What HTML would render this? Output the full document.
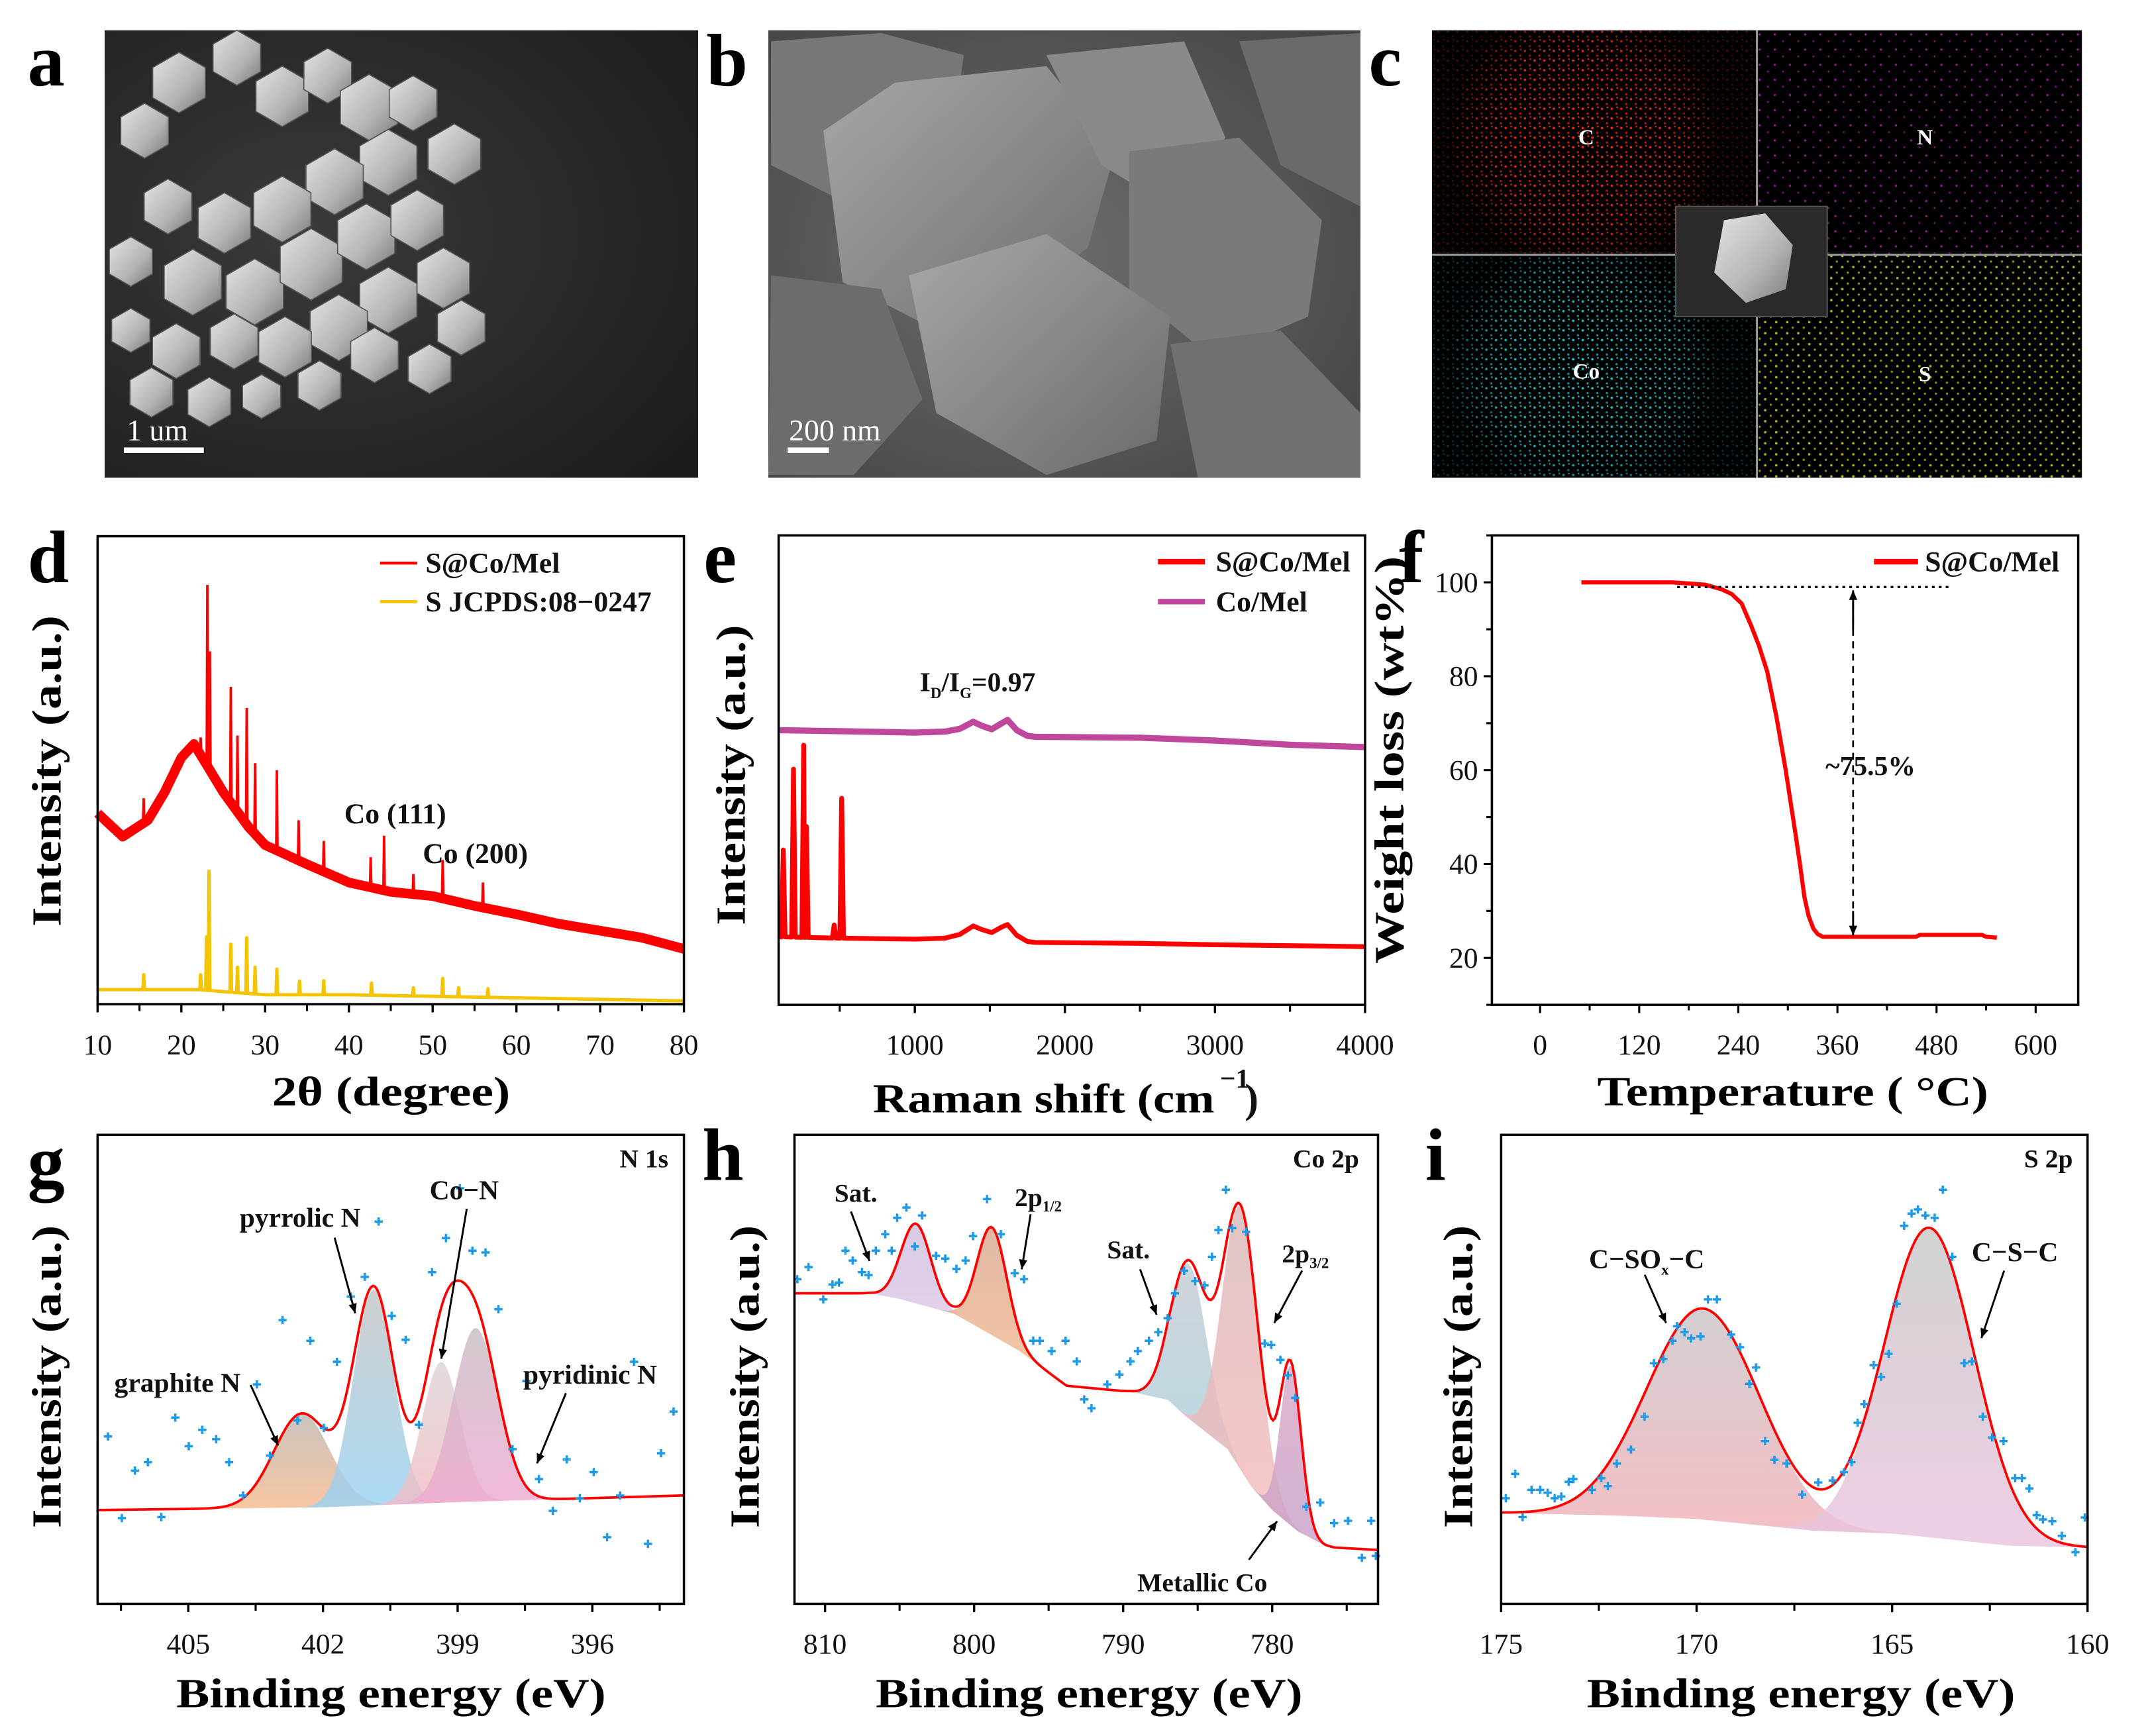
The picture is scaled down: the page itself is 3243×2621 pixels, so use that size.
<!DOCTYPE html>
<html><head><meta charset="utf-8">
<style>
html,body{margin:0;padding:0;background:#fff}
svg{display:block}
text{font-family:"Liberation Serif",serif}
</style></head>
<body>
<svg id="fig" xmlns="http://www.w3.org/2000/svg" width="3243" height="2621" viewBox="0 0 1560 1261" preserveAspectRatio="none">
<defs>
<linearGradient id="hexG" x1="0" y1="0" x2="1" y2="1"><stop offset="0" stop-color="#e4e4e4"/><stop offset="0.6" stop-color="#b4b4b4"/><stop offset="1" stop-color="#7a7a7a"/></linearGradient>
<radialGradient id="aBg" cx="0.35" cy="0.45" r="0.8"><stop offset="0" stop-color="#3a3a3a"/><stop offset="1" stop-color="#1c1c1c"/></radialGradient>
<radialGradient id="bBg" cx="0.45" cy="0.5" r="0.8"><stop offset="0" stop-color="#6e6e6e"/><stop offset="1" stop-color="#3e3e3e"/></radialGradient>
<linearGradient id="rockG" x1="0" y1="0" x2="1" y2="1"><stop offset="0" stop-color="#a8a8a8"/><stop offset="1" stop-color="#6a6a6a"/></linearGradient>
<pattern id="dotR" width="7" height="7" patternUnits="userSpaceOnUse"><circle cx="1.5" cy="2" r="0.9" fill="#ff2a1a"/><circle cx="5" cy="5.5" r="0.8" fill="#d01810"/><circle cx="5.5" cy="1" r="0.6" fill="#ff3a2a"/></pattern>
<pattern id="dotM" width="11" height="11" patternUnits="userSpaceOnUse"><circle cx="2" cy="3" r="0.8" fill="#c020c0"/><circle cx="8" cy="8" r="0.7" fill="#a010a0"/></pattern>
<pattern id="dotC" width="7" height="7" patternUnits="userSpaceOnUse"><circle cx="1.5" cy="2" r="0.9" fill="#20c8d0"/><circle cx="5" cy="5.5" r="0.8" fill="#10a0b0"/><circle cx="5.5" cy="1" r="0.6" fill="#30d8e0"/></pattern>
<pattern id="dotY" width="8" height="8" patternUnits="userSpaceOnUse"><circle cx="2" cy="2" r="0.9" fill="#d8d010"/><circle cx="6" cy="6" r="0.8" fill="#b0a800"/></pattern>
<radialGradient id="cloud"><stop offset="0" stop-color="#fff" stop-opacity="1"/><stop offset="0.7" stop-color="#fff" stop-opacity="0.8"/><stop offset="1" stop-color="#fff" stop-opacity="0.15"/></radialGradient>
<mask id="mC"><rect x="1040" y="22" width="236" height="163" fill="#fff" opacity="0.25"/><circle cx="1150" cy="100" r="95" fill="url(#cloud)"/></mask>
<mask id="mCo"><rect x="1040" y="185" width="236" height="162" fill="#fff" opacity="0.25"/><circle cx="1150" cy="268" r="95" fill="url(#cloud)"/></mask>
<linearGradient id="gOr" x1="0" y1="0" x2="0" y2="1"><stop offset="0" stop-color="#bdb7b2"/><stop offset="1" stop-color="#f6b98c"/></linearGradient>
<linearGradient id="gBl" x1="0" y1="0" x2="0" y2="1"><stop offset="0" stop-color="#c4c4c4"/><stop offset="1" stop-color="#98d2f2"/></linearGradient>
<linearGradient id="gGr" x1="0" y1="0" x2="0" y2="1"><stop offset="0" stop-color="#dcd4d4"/><stop offset="1" stop-color="#f2bcc4"/></linearGradient>
<linearGradient id="gPk" x1="0" y1="0" x2="0" y2="1"><stop offset="0" stop-color="#c8bcc4"/><stop offset="1" stop-color="#eeaad0"/></linearGradient>
<linearGradient id="gLv" x1="0" y1="0" x2="0" y2="1"><stop offset="0" stop-color="#cfc0dc"/><stop offset="1" stop-color="#dcc8e8"/></linearGradient>
<linearGradient id="gOr2" x1="0" y1="0" x2="0" y2="1"><stop offset="0" stop-color="#d8a890"/><stop offset="1" stop-color="#f4b890"/></linearGradient>
<linearGradient id="gBg" x1="0" y1="0" x2="0" y2="1"><stop offset="0" stop-color="#c4ccd0"/><stop offset="1" stop-color="#a8d0e0"/></linearGradient>
<linearGradient id="gRs" x1="0" y1="0" x2="0" y2="1"><stop offset="0" stop-color="#d8b8b8"/><stop offset="1" stop-color="#f8bcbc"/></linearGradient>
<linearGradient id="gMt" x1="0" y1="0" x2="0" y2="1"><stop offset="0" stop-color="#d8a8c8"/><stop offset="1" stop-color="#c8a0c8"/></linearGradient>
<linearGradient id="gS1" x1="0" y1="0" x2="0" y2="1"><stop offset="0" stop-color="#c8c4c6"/><stop offset="1" stop-color="#f2b0b8"/></linearGradient>
<linearGradient id="gS2" x1="0" y1="0" x2="0" y2="1"><stop offset="0" stop-color="#c8c8c8"/><stop offset="1" stop-color="#eac4de"/></linearGradient>
</defs>

<g id="semA">
<rect x="76" y="22" width="431" height="325" fill="url(#aBg)"/>
</g>
<g id="semB">
<rect x="558" y="22" width="430" height="325" fill="url(#bBg)"/>
<polygon points="560,30 640,24 700,40 690,110 620,150 560,120" fill="#777"/>
<polygon points="598,95 650,60 760,48 810,110 790,180 700,250 612,205" fill="url(#rockG)"/>
<polygon points="760,40 860,30 890,100 850,150 800,120" fill="#8a8a8a"/>
<polygon points="820,110 900,100 960,160 950,230 880,260 820,210" fill="#7a7a7a"/>
<polygon points="660,200 760,170 850,230 840,320 760,345 680,300" fill="url(#rockG)"/>
<polygon points="560,200 640,210 670,290 620,345 558,345" fill="#6c6c6c"/>
<polygon points="850,250 930,240 988,300 988,347 870,347" fill="#707070"/>
<polygon points="900,30 988,24 988,150 930,120" fill="#6a6a6a"/>
</g>
<g id="edsC">
<rect x="1040" y="22" width="472" height="325" fill="#000"/>
<rect x="1040" y="22" width="236" height="163" fill="url(#dotR)" mask="url(#mC)"/>
<rect x="1276" y="22" width="236" height="163" fill="url(#dotM)" opacity="0.8"/>
<rect x="1040" y="185" width="236" height="162" fill="url(#dotC)" mask="url(#mCo)"/>
<rect x="1276" y="185" width="236" height="162" fill="url(#dotY)" opacity="0.85"/>
<line x1="1276" y1="22" x2="1276" y2="347" stroke="#999" stroke-width="1.5"/>
<line x1="1040" y1="185" x2="1512" y2="185" stroke="#999" stroke-width="1.5"/>
<rect x="1217" y="150" width="110" height="80" fill="#2a2a2a" stroke="#555" stroke-width="1"/>
<polygon points="1252,160 1282,155 1302,178 1297,210 1268,220 1245,198" fill="url(#hexG)"/>
<text x="1152" y="105" font-size="16" font-weight="bold" fill="#fff" text-anchor="middle">C</text>
<text x="1398" y="105" font-size="16" font-weight="bold" fill="#fff" text-anchor="middle">N</text>
<text x="1152" y="275" font-size="16" font-weight="bold" fill="#fff" text-anchor="middle">Co</text>
<text x="1398" y="277" font-size="16" font-weight="bold" fill="#fff" text-anchor="middle">S</text>
</g>
</svg>
<script>
// ---------------- DATA ----------------
const xrdBgX=[10,13,16,18,20,21.5,23,25,28,30,35,40,45,50,55,60,65,70,75,80];
const xrdBgY=[40.8,35.8,39.3,45.3,52.7,55.6,51.2,45.3,37.9,34,29.9,26,24,23.1,21,19.2,17.2,15.7,14.2,11.8];
const xrdPeakX=[15.5,22.3,23.1,23.4,25.9,26.7,27.8,28.8,31.4,34,37,42.6,44.2,47.7,51.2,56];
const xrdPeakY=[44,57,89.6,75.4,67.8,57.4,63.3,51.5,50,39.3,34.9,31.4,36,27.8,30.8,26];
const refBgX=[10,22,30,40,80];
const refBgY=[3.1,3.1,2,2,0.7];
const refPeakX=[15.5,22.3,23.0,23.3,25.9,26.7,27.8,28.8,31.4,34.1,37,42.7,47.7,51.2,53.1,56.6];
const refPeakY=[6.3,6.3,14.4,28.4,12.8,7.9,14.2,7.9,7.5,4.9,5,4.5,3.5,5.5,3.5,3.3];
const xrdTicks=[10,20,30,40,50,60,70,80];
const ramanX=[93,500,1000,1200,1300,1389,1450,1513,1580,1618,1680,1750,1800,2500,3000,3500,4000];
const ramanCoMel=[58.5,58.3,58,58.2,58.8,60.3,59.4,58.7,60,60.7,58.5,57.3,57.1,56.9,56.3,55.4,54.9];
const ramanSCo=[14.5,14.2,14,14.2,15,16.8,16,15.4,16.6,17.1,14.8,13.5,13.3,13.1,12.8,12.6,12.4];
const ramanPeakX=[124,192,260,278,463,513];
const ramanPeakY=[33,50.2,55.3,38,17,44];
const ramanTicks=[1000,2000,3000,4000];
const tgaT=[50,160,200,220,232,244,255,265,275,286,297,309,315,320,325,331,336,342,455,460,535,540,553];
const tgaW=[100,100,99.5,98.5,97.5,95.5,91,86.5,81,71.5,60.4,46.7,39.5,33,29,26.2,25.1,24.5,24.5,24.9,24.9,24.5,24.3];
const tgaXTicks=[0,120,240,360,480,600];
const tgaYTicks=[20,40,60,80,100];
const gBgX=[407,402,399,394];
const gBgY=[20,20.6,21.7,23.1];
const gNames=['graphite-n','pyrrolic-n','co-n','pyridinic-n'];
const gCenters=[402.47,400.87,399.37,398.6];
const gAmps=[20,46,30,37];
const gSig=[0.62,0.45,0.42,0.5];
const gPtsX=[406.79,406.48,406.19,405.90,405.60,405.29,404.99,404.69,404.38,404.09,403.78,403.47,403.18,402.90,402.57,402.28,401.98,401.69,401.38,401.07,400.76,400.47,400.16,399.86,399.57,399.26,398.95,398.67,398.38,398.09,397.78,397.47,397.19,396.88,396.57,396.28,395.97,395.67,395.38,395.07,394.76,394.47,394.19];
const gPtsY=[35.7,18.3,28.4,30.2,18.5,39.7,33.6,37.1,35.1,30.2,23.1,46.8,31.6,60.5,39.1,56.1,37.5,51.6,65.5,69.7,81.5,61.4,56.3,38.2,70.7,78.0,88.6,75.3,74.9,62.8,33.0,47.5,26.6,19.8,30.8,22.5,28.1,14.2,23.1,51.6,12.8,32.1,41.0];
const gTicks=[405,402,399,396];
const hBgX=[812,807,805,801.3,797,793.8,789.5,787,785.8,783,781.4,780,778.3,776.5,775.8,773];
const hBgY=[66.2,66.2,65,61.8,54,46.5,45.2,43.5,40,33,25,20,15.5,12.5,12,11.5];
const hNames=['sat-1','2p-half','sat-2','2p-three-half','metallic-co'];
const hCenters=[803.9,798.8,785.6,782.1,778.76];
const hAmps=[17,23,33,56,34];
const hSig=[1.0,1.0,1.2,1.2,0.7];
const hPtsX=[811.86,811.11,810.12,809.50,809.07,808.63,808.14,807.52,807.08,806.59,805.96,805.53,805.16,804.54,803.98,803.49,802.55,801.93,801.19,800.57,800.07,799.13,798.20,797.27,796.65,796.03,795.59,794.79,793.86,793.11,792.61,792.12,791.06,790.25,789.51,789.01,788.27,787.64,787.02,786.53,785.91,785.16,784.54,784.04,783.61,783.11,782.68,781.75,780.50,780.07,779.45,778.95,778.45,777.71,776.78,775.85,774.91,773.98,773.36,773.05];
const hPtsY=[69.2,71.8,64.9,68.1,68.5,75.3,73.2,70.7,70.1,75.3,78.8,75.3,82.3,84.5,76.2,82.8,74.2,73.6,71.4,73.2,78.4,86.3,78.8,70.5,69.2,56.1,56.1,53.9,56.1,51.7,43.6,41.7,46.8,48.9,51.7,53.9,56.1,57.9,60.9,66.2,71.0,68.8,67.9,74.0,79.7,88.3,80.1,79.3,55.5,55.2,52.0,48.7,43.9,20.7,21.6,17.2,17.7,9.8,17.7,10.2];
const hTicks=[810,800,790,780];
const iBgX=[175,172,170,167,165,162,160];
const iBgY=[19.4,18.8,18.1,15.6,15,12.4,12];
const iNames=['c-sox-c','c-s-c'];
const iCenters=[169.83,164.05];
const iAmps=[45,66];
const iSig=[1.45,1.15];
const iPtsX=[174.88,174.64,174.45,174.22,174.00,173.81,173.63,173.46,173.27,173.15,172.68,172.44,172.27,172.04,171.68,171.33,171.09,170.85,170.62,170.50,170.31,170.14,169.90,169.71,169.48,169.12,168.89,168.65,168.48,168.25,168.01,167.70,167.30,166.89,166.52,166.23,166.04,165.88,165.71,165.47,165.28,165.09,164.88,164.69,164.50,164.34,164.15,163.91,163.70,163.46,163.15,162.96,162.68,162.44,162.15,161.85,161.68,161.49,161.30,161.14,160.90,160.66,160.31,160.07];
const iPtsY=[22.5,27.7,18.5,24.3,24.3,23.7,22.5,22.9,26.0,26.6,24.3,26.8,25.1,29.9,32.9,39.9,51.3,52.2,56.1,59.2,57.9,56.6,57.0,64.9,64.9,57.4,54.7,46.9,50.4,34.7,30.7,29.9,23.3,25.9,26.3,28.1,30.2,38.6,42.6,50.9,48.4,53.3,64.0,80.6,83.2,84.1,82.8,82.3,88.3,74.0,51.3,51.7,39.9,35.5,34.7,26.8,26.8,24.6,18.9,18.0,17.6,14.5,11.0,18.4];
const iTicks=[175,170,165,160];

// ---------------- HELPERS ----------------
const svg=document.getElementById('fig');
const NS='http://www.w3.org/2000/svg';
function el(tag,attrs,parent){const e=document.createElementNS(NS,tag);for(const k in attrs)e.setAttribute(k,attrs[k]);(parent||svg).appendChild(e);return e;}
function lin(d0,d1,r0,r1){return v=>r0+(v-d0)/(d1-d0)*(r1-r0);}
function interp(xs,ys,x){
  for(let i=0;i<xs.length-1;i++){const a=xs[i],b=xs[i+1];if(x>=Math.min(a,b)&&x<=Math.max(a,b)){return ys[i]+(ys[i+1]-ys[i])*(x-a)/(b-a);}}
  return Math.abs(x-xs[0])<Math.abs(x-xs[xs.length-1])?ys[0]:ys[ys.length-1];
}
function gauss(c,a,s,x){return a*Math.exp(-((x-c)*(x-c))/(2*s*s));}
function pathOf(pts,sx,sy){return 'M'+pts.map(p=>sx(p[0]).toFixed(2)+','+sy(p[1]).toFixed(2)).join('L');}
function txt(name,x,y,s,attrs){const t=el('text',Object.assign({x:x,y:y,fill:'#111'},attrs||{}));t.textContent=s;
  
  
  return t;}
function frame(name,L,R,T,B){const r=el('rect',{x:L,y:T,width:R-L,height:B-T,fill:'none',stroke:'#000','stroke-width':1.7});
  
  }
function scale(d0,d1,r0,r1){const f=lin(d0,d1,r0,r1);f.lo=Math.min(r0,r1);f.hi=Math.max(r0,r1);return f;}
function xAxis(name,sx,B,ticks,minorStep,labY){
  const g=el('g',{});
  
  
  const dir=Math.sign(ticks[1]-ticks[0]);
  const allMinor=[];
  for(let v=ticks[0]-2*dir*minorStep;dir>0?v<=ticks[ticks.length-1]+2*minorStep:v>=ticks[ticks.length-1]-2*minorStep;v+=dir*minorStep)allMinor.push(v);
  allMinor.forEach(v=>{const x=sx(v);if(x<sx.lo-0.5||x>sx.hi+0.5)return;el('line',{x1:x,y1:B,x2:x,y2:B+5,stroke:'#000','stroke-width':1.5},g);});
  ticks.forEach(v=>{const x=sx(v);el('line',{x1:x,y1:B,x2:x,y2:B+6,stroke:'#000','stroke-width':1.6},g);
    const t=txt('x-tick-label',x,labY,String(v),{'font-size':21,'text-anchor':'middle'});g.appendChild(t);});
}
function plus(g,x,y){const p=el('path',{d:`M${(x-3).toFixed(1)},${y.toFixed(1)}h6M${x.toFixed(1)},${(y-3).toFixed(1)}v6`,stroke:'#1e9be6','stroke-width':1.7},g);
  
  }
function arrow(name,x1,y1,x2,y2){const g=el('g',{});
  
  
  el('line',{x1:x1,y1:y1,x2:x2,y2:y2,stroke:'#000','stroke-width':1.4},g);
  const a=Math.atan2(y2-y1,x2-x1),L=7,W=3;
  const bx=x2-L*Math.cos(a),by=y2-L*Math.sin(a);
  el('polygon',{points:`${x2},${y2} ${bx-W*Math.sin(a)},${by+W*Math.cos(a)} ${bx+W*Math.sin(a)},${by-W*Math.cos(a)}`,fill:'#000'},g);}
function letter(name,ch,x,y){txt(name,x,y,ch,{'font-size':54,'font-weight':'bold',fill:'#000'});}
function yTitle(name,s,cx,cy,len){return txt(name,0,0,s,{'font-size':30,'font-weight':'bold','text-anchor':'middle',transform:`translate(${cx},${cy}) rotate(-90)`,textLength:len,lengthAdjust:'spacingAndGlyphs',fill:'#000'});}
function xTitle(name,s,cx,y,len){return txt(name,cx,y,s,{'font-size':30,'font-weight':'bold','text-anchor':'middle',textLength:len,lengthAdjust:'spacingAndGlyphs',fill:'#000'});}
function spikes(bgX,bgY,pkX,pkY,w){const pts=[];bgX.forEach((x,i)=>pts.push([x,bgY[i]]));
  pkX.forEach((x,i)=>{const b=interp(bgX,bgY,x);pts.push([x-w,b],[x,pkY[i]],[x+w,b]);});
  pts.sort((a,b)=>a[0]-b[0]);return pts;}

// SEM a particles
(function(){const g=document.getElementById('semA');
 const cs=[[130,60,22],[105,95,20],[172,42,20],[205,70,22],[238,55,20],[268,78,24],[300,75,20],[330,112,22],[282,118,24],[243,132,24],[205,152,24],[163,162,22],[122,150,20],[95,190,18],[140,205,24],[185,212,24],[226,192,26],[266,172,24],[303,160,22],[322,202,22],[282,218,24],[246,238,24],[207,252,22],[170,248,20],[128,255,20],[110,285,18],[152,292,18],[95,240,16],[335,238,20],[312,268,18],[272,258,20],[232,280,18],[190,288,16]];
 cs.forEach(c=>{const [x,y,r]=c;let pts=[];for(let k=0;k<6;k++){const a=Math.PI/6+k*Math.PI/3;pts.push((x+r*Math.cos(a)).toFixed(1)+','+(y+r*Math.sin(a)).toFixed(1));}
   el('polygon',{points:pts.join(' '),fill:'url(#hexG)',stroke:'#555','stroke-width':0.8},g);});
 el('line',{x1:90,y1:327,x2:148,y2:327,stroke:'#fff','stroke-width':4},g);
 g.appendChild(txt('scale-bar-label-a',92,320,'1 um',{'font-size':22,fill:'#fff'}));
 const gb=document.getElementById('semB');
 el('line',{x1:572,y1:327,x2:602,y2:327,stroke:'#fff','stroke-width':4},gb);
 gb.appendChild(txt('scale-bar-label-b',573,320,'200 nm',{'font-size':22,fill:'#fff'}));
})();

letter('panel-label-a','a',20,62);
letter('panel-label-b','b',513,62);
letter('panel-label-c','c',994,62);
letter('panel-label-d','d',20,423);
letter('panel-label-e','e',511,423);
letter('panel-label-f','f',1016,423);
letter('panel-label-g','g',20,862);
letter('panel-label-h','h',510,857);
letter('panel-label-i','i',1035,857);

// PANEL d
(function(){
 const L=70.9,R=496.7,T=389.5,B=729.4;
 const sx=scale(10,80,L,R), sy=lin(0,100,B,T);
 const ref=el('path',{d:pathOf(spikes(refBgX,refBgY,refPeakX,refPeakY,0.1),sx,sy),fill:'none',stroke:'#f5c400','stroke-width':2.4,'stroke-linejoin':'round'});
 
 
 const band=el('path',{d:pathOf(xrdBgX.map((x,i)=>[x,xrdBgY[i]]),sx,sy),fill:'none',stroke:'#ff0000','stroke-width':7,'stroke-linejoin':'round'});
 
 
 const s=el('path',{d:pathOf(spikes(xrdBgX,xrdBgY,xrdPeakX,xrdPeakY,0.08),sx,sy),fill:'none',stroke:'#ff0000','stroke-width':1.8,'stroke-linejoin':'miter'});
 
 
 frame('xrd-plot-frame',L,R,T,B);
 xAxis('xrd-x-axis',sx,B,xrdTicks,5,766);
 xTitle('xrd-x-title','2θ (degree)',284,803,173);
 yTitle('xrd-y-title','Intensity (a.u.)',44,560,226);
 el('line',{x1:276,y1:409,x2:303,y2:409,stroke:'#ff0000','stroke-width':2.2});
 txt('legend-s-co-mel',309,416,'S@Co/Mel',{'font-size':21,'font-weight':'bold'});
 el('line',{x1:276,y1:437,x2:303,y2:437,stroke:'#f5c400','stroke-width':2.2});
 txt('legend-s-jcpds',309,444,'S JCPDS:08−0247',{'font-size':21,'font-weight':'bold'});
 txt('annotation-co-111',250,598,'Co (111)',{'font-size':21,'font-weight':'bold'});
 txt('annotation-co-200',307,627,'Co (200)',{'font-size':21,'font-weight':'bold'});
})();

// PANEL e
(function(){
 const L=565.5,R=991.4,T=388.9,B=729.9;
 const sx=scale(93,4000,L,R), sy=lin(0,100,B,T);
 const co=el('path',{d:pathOf(ramanX.map((x,i)=>[x,ramanCoMel[i]]),sx,sy),fill:'none',stroke:'#c0489c','stroke-width':4.5,'stroke-linejoin':'round'});
 
 
 const s=el('path',{d:pathOf(spikes(ramanX,ramanSCo,ramanPeakX,ramanPeakY,12),sx,sy),fill:'none',stroke:'#ff0000','stroke-width':3.5,'stroke-linejoin':'round'});
 
 
 frame('raman-plot-frame',L,R,T,B);
 xAxis('raman-x-axis',sx,B,ramanTicks,500,766);
 xTitle('raman-x-title','Raman shift (cm',758,808,248);
 txt('raman-x-title-superscript',886,790,'−1',{'font-size':20,'font-weight':'bold'});
 txt('raman-x-title-paren',904,808,')',{'font-size':30,'font-weight':'bold'});
 yTitle('raman-y-title','Intensity (a.u.)',541,563,218);
 el('line',{x1:841,y1:408,x2:875,y2:408,stroke:'#ff0000','stroke-width':4});
 txt('legend-s-co-mel-raman',883,415,'S@Co/Mel',{'font-size':21,'font-weight':'bold'});
 el('line',{x1:841,y1:437,x2:875,y2:437,stroke:'#c0489c','stroke-width':4});
 txt('legend-co-mel-raman',883,444,'Co/Mel',{'font-size':21,'font-weight':'bold'});
 const id=txt('annotation-id-ig',668,502,'',{'font-size':20,'font-weight':'bold'});
 id.innerHTML='I<tspan font-size="11" dy="5">D</tspan><tspan dy="-5">/I</tspan><tspan font-size="11" dy="5">G</tspan><tspan dy="-5">=0.97</tspan>';
})();

// PANEL f
(function(){
 const L=1083.5,R=1509.3,T=388.9,B=729.9;
 const sx=scale(0,600,1118.5,1478.4), sy=lin(20,100,695.8,423);
 sx.lo=L;sx.hi=R;
 const line=el('path',{d:pathOf(tgaT.map((t,i)=>[t,tgaW[i]]),sx,sy),fill:'none',stroke:'#ff0000','stroke-width':3,'stroke-linejoin':'round'});
 
 
 const dl=el('line',{x1:sx(166),y1:sy(99),x2:sx(497),y2:sy(99),stroke:'#000','stroke-width':1.6,'stroke-dasharray':'2,3'});
 
 
 el('line',{x1:sx(379),y1:sy(98),x2:sx(379),y2:sy(25),stroke:'#000','stroke-width':1.3,'stroke-dasharray':'5,4'});
 arrow('tga-arrow-up',sx(379),sy(90),sx(379),sy(98.3));
 arrow('tga-arrow-down',sx(379),sy(30),sx(379),sy(24.8));
 txt('annotation-weight-loss',sx(400),sy(59),'~75.5%',{'font-size':20,'font-weight':'bold','text-anchor':'middle'});
 frame('tga-plot-frame',L,R,T,B);
 const g=el('g',{});
 
 
 for(let v=-60;v<=660;v+=60){const x=sx(v);if(x<L||x>R)continue;el('line',{x1:x,y1:B,x2:x,y2:B+(v%120===0?6:4),stroke:'#000','stroke-width':1.5},g);}
 tgaXTicks.forEach(v=>{g.appendChild(txt('x-tick-label',sx(v),766,String(v),{'font-size':21,'text-anchor':'middle'}));});
 const gy=el('g',{});
 
 
 for(let v=10;v<=110;v+=10){const y=sy(v);if(y<T-0.5||y>B+0.5)continue;el('line',{x1:L,y1:y,x2:L-(v%20===0?6:4),y2:y,stroke:'#000','stroke-width':1.5},gy);}
 tgaYTicks.forEach(v=>{gy.appendChild(txt('y-tick-label',L-10,sy(v)+7,String(v),{'font-size':21,'text-anchor':'end'}));});
 xTitle('tga-x-title','Temperature ( °C)',1302,803,284);
 yTitle('tga-y-title','Weight loss (wt%)',1019,552,296);
 el('line',{x1:1361,y1:408,x2:1393,y2:408,stroke:'#ff0000','stroke-width':4});
 txt('legend-s-co-mel-tga',1398,415,'S@Co/Mel',{'font-size':21,'font-weight':'bold'});
})();

// XPS generic
function xps(prefix,L,R,d0,d1,bgX,bgY,names,centers,amps,sigs,fills,ptsX,ptsY,ticks,minorStep){
 const T=824.3,B=1165;
 const sx=scale(d0,d1,L,R), sy=lin(0,100,B,T);
 const bg=x=>interp(bgX,bgY,x);
 const lo=Math.min(d0,d1),hi=Math.max(d0,d1);
 centers.forEach((c,i)=>{
   const s=sigs[i];const top=[],bot=[];
   const a0=Math.max(lo,c-3.6*s),a1=Math.min(hi,c+3.6*s);
   for(let k=0;k<=80;k++){const x=a0+(a1-a0)*k/80;top.push([x,bg(x)+gauss(c,amps[i],s,x)]);bot.unshift([x,bg(x)]);}
   const p=el('path',{d:pathOf(top.concat(bot),sx,sy)+'Z',fill:fills[i],opacity:0.82});
   
   
 });
 const env=[];
 for(let k=0;k<=300;k++){const x=lo+(hi-lo)*k/300;let v=bg(x);centers.forEach((c,i)=>{v+=gauss(c,amps[i],sigs[i],x);});env.push([x,v]);}
 const e=el('path',{d:pathOf(env,sx,sy),fill:'none',stroke:'#ff0000','stroke-width':1.8});
 
 
 const g=el('g',{});
 
 
 ptsX.forEach((x,i)=>plus(g,sx(x),sy(ptsY[i])));
 frame(prefix+'-plot-frame',L,R,T,B);
 xAxis(prefix+'-x-axis',sx,B,ticks,minorStep,1201);
}

xps('xps-n1s',70.9,496.7,407.02,393.96,gBgX,gBgY,gNames,gCenters,gAmps,gSig,['url(#gOr)','url(#gBl)','url(#gGr)','url(#gPk)'],gPtsX,gPtsY,gTicks,1.5);
xTitle('xps-n1s-x-title','Binding energy (eV)',284,1240,312);
yTitle('xps-n1s-y-title','Intensity (a.u.)',44,1000,220);
txt('label-n1s',450,848,'N 1s',{'font-size':19,'font-weight':'bold'});
txt('annotation-pyrrolic-n',174,891,'pyrrolic N',{'font-size':20,'font-weight':'bold'});
arrow('arrow-pyrrolic-n',243,899,258,954);
txt('annotation-co-n',312,871,'Co−N',{'font-size':20,'font-weight':'bold'});
arrow('arrow-co-n',339,878,320.5,987);
txt('annotation-graphite-n',83,1011,'graphite N',{'font-size':20,'font-weight':'bold'});
arrow('arrow-graphite-n',182,1006,202,1050);
txt('annotation-pyridinic-n',380,1005,'pyridinic N',{'font-size':20,'font-weight':'bold'});
arrow('arrow-pyridinic-n',411,1012,390,1063);

xps('xps-co2p',577,1000.8,812.05,772.9,hBgX,hBgY,hNames,hCenters,hAmps,hSig,['url(#gLv)','url(#gOr2)','url(#gBg)','url(#gRs)','url(#gMt)'],hPtsX,hPtsY,hTicks,5);
xTitle('xps-co2p-x-title','Binding energy (eV)',791,1240,310);
yTitle('xps-co2p-y-title','Intensity (a.u.)',551,1000,220);
txt('label-co2p',939,848,'Co 2p',{'font-size':19,'font-weight':'bold'});
txt('annotation-sat-1',606,873,'Sat.',{'font-size':19,'font-weight':'bold'});
arrow('arrow-sat-1',618,880,631.5,916);
(function(){const t=txt('annotation-2p-half',737,876,'',{'font-size':19,'font-weight':'bold'});t.innerHTML='2p<tspan font-size="11" dy="4">1/2</tspan>';})();
arrow('arrow-2p-half',748.5,882,742,922);
txt('annotation-sat-2',804,914,'Sat.',{'font-size':19,'font-weight':'bold'});
arrow('arrow-sat-2',828,922,840,955);
(function(){const t=txt('annotation-2p-three-half',931,917,'',{'font-size':19,'font-weight':'bold'});t.innerHTML='2p<tspan font-size="11" dy="4">3/2</tspan>';})();
arrow('arrow-2p-three-half',945.6,923,925.4,961);
txt('annotation-metallic-co',826,1156,'Metallic Co',{'font-size':19,'font-weight':'bold'});
arrow('arrow-metallic-co',907,1133,927.5,1105);

xps('xps-s2p',1090.2,1516.1,175,160,iBgX,iBgY,iNames,iCenters,iAmps,iSig,['url(#gS1)','url(#gS2)'],iPtsX,iPtsY,iTicks,2.5);
xTitle('xps-s2p-x-title','Binding energy (eV)',1308,1240,311);
yTitle('xps-s2p-y-title','Intensity (a.u.)',1069,1000,220);
txt('label-s2p',1470,848,'S 2p',{'font-size':19,'font-weight':'bold'});
(function(){const t=txt('annotation-c-sox-c',1154,921,'',{'font-size':20,'font-weight':'bold'});t.innerHTML='C−SO<tspan font-size="11" dy="5">x</tspan><tspan dy="-5">−C</tspan>';})();
arrow('arrow-c-sox-c',1194.5,926,1210,961);
txt('annotation-c-s-c',1432,916,'C−S−C',{'font-size':20,'font-weight':'bold'});
arrow('arrow-c-s-c',1455.5,923,1439,972);
</script>
</body></html>
